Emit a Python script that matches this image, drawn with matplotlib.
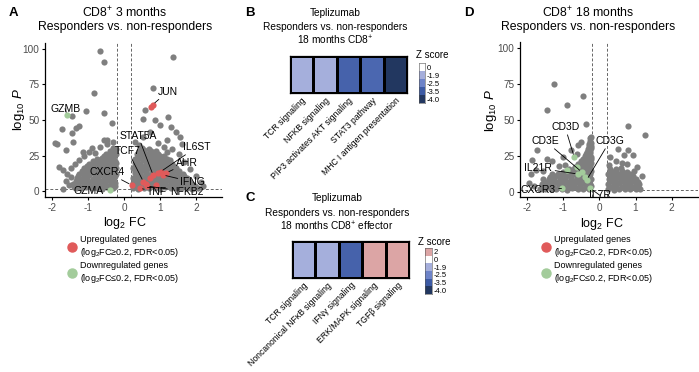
import matplotlib
matplotlib.use('Agg')
import matplotlib.pyplot as plt
from matplotlib.colors import LinearSegmentedColormap, Normalize
from matplotlib.lines import Line2D
import numpy as np

plt.rcParams['font.family'] = ['Liberation Sans', 'DejaVu Sans']
plt.rcParams['mathtext.fontset'] = 'custom'
plt.rcParams['mathtext.rm'] = 'Liberation Sans'
plt.rcParams['mathtext.it'] = 'Liberation Sans:italic'
plt.rcParams['mathtext.bf'] = 'Liberation Sans:bold'
plt.rcParams['axes.unicode_minus'] = False

# ---- Panel A: CD8+ 3 months volcano (log2FC, -log10 P) ----
a_gray = [
    # left cloud
    (-1.35, 2.2), (-1.2, 1.8), (-1.05, 2.5), (-0.9, 1.9), (-0.75, 2.3), (-0.6, 1.7), (-0.45, 2.6), (-0.3, 2.0),
    (-1.28, 3.8), (-1.13, 3.5), (-0.98, 4.0), (-0.83, 3.6), (-0.68, 3.9), (-0.53, 3.4), (-0.38, 4.1), (-0.25, 3.7),
    (-1.42, 5.0), (-1.27, 5.8), (-1.12, 5.3), (-0.97, 6.0), (-0.82, 5.2), (-0.67, 5.7), (-0.52, 5.1), (-0.37, 6.1), (-0.24, 5.4),
    (-1.35, 7.4), (-1.2, 7.0), (-1.05, 7.6), (-0.9, 7.1), (-0.75, 7.5), (-0.6, 7.0), (-0.45, 7.7), (-0.3, 7.2),
    (-1.32, 9.2), (-1.17, 8.6), (-1.02, 9.5), (-0.87, 8.8), (-0.72, 9.4), (-0.57, 8.7), (-0.42, 9.6), (-0.27, 8.9),
    (-1.27, 10.9), (-1.12, 10.5), (-0.97, 11.1), (-0.82, 10.6), (-0.67, 11.0), (-0.52, 10.4), (-0.37, 11.2), (-0.24, 10.7),
    (-1.25, 12.2), (-1.1, 13.0), (-0.95, 12.4), (-0.8, 12.9), (-0.65, 12.1), (-0.5, 13.2), (-0.35, 12.6), (-0.23, 12.3),
    (-1.17, 14.4), (-1.02, 14.0), (-0.87, 14.6), (-0.72, 14.1), (-0.57, 14.5), (-0.42, 14.0), (-0.28, 14.7),
    (-1.1, 16.3), (-0.95, 15.7), (-0.8, 16.5), (-0.65, 15.9), (-0.5, 16.6), (-0.35, 15.8), (-0.22, 16.4),
    (-1.02, 17.9), (-0.87, 17.5), (-0.72, 18.1), (-0.57, 17.6), (-0.42, 18.0), (-0.28, 17.4),
    (-0.97, 19.2), (-0.82, 19.9), (-0.67, 19.4), (-0.52, 20.0), (-0.37, 19.3), (-0.23, 19.8),
    (-0.85, 21.2), (-0.68, 21.6), (-0.53, 21.1), (-0.38, 21.7), (-0.24, 21.3),
    (-0.75, 22.8), (-0.6, 23.4), (-0.45, 22.9), (-0.3, 23.5),
    (-0.57, 24.6), (-0.42, 25.1), (-0.28, 24.7),
    (-0.5, 26.2), (-0.36, 26.9), (-0.22, 26.4), (-0.4, 28.3), (-0.27, 28.0), (-0.31, 30.2), (-0.22, 29.7),
    (-1.82, 17.0), (-1.7, 14.8), (-1.59, 12.0), (-1.48, 10.2), (-1.62, 7.3), (-1.52, 4.1), (-1.47, 15.9),
    (-1.36, 18.8), (-1.26, 21.5), (-1.12, 24.6), (-0.97, 27.3), (-0.82, 26.8), (-0.66, 30.8), (-0.46, 32.9),
    (-0.3, 34.6), (-1.91, 33.6), (-1.87, 33.4), (-1.61, 29.0), (-1.43, 34.7), (-0.57, 36.0), (-0.48, 35.8),
    (-1.73, 44.0), (-1.45, 41.0), (-1.24, 46.0), (-1.33, 44.2), (-1.45, 53.0), (-1.06, 56.5), (-0.57, 54.7),
    (-0.34, 47.6), (-0.83, 69.0), (-0.55, 91.0), (-0.67, 98.6), (-0.9, 30.5), (-1.15, 27.6), (-1.38, 2.9), (-1.7, 1.5),
    # right cloud
    (0.25, 2.1), (0.4, 1.7), (0.55, 2.4), (0.7, 1.9), (0.85, 2.2), (1.0, 1.6), (1.15, 2.5), (1.3, 1.8), (1.45, 2.3),
    (1.6, 1.9), (1.75, 2.2), (1.9, 1.7), (2.05, 2.0),
    (0.32, 3.7), (0.47, 4.0), (0.62, 3.5), (0.77, 3.9), (0.92, 3.6), (1.07, 4.1), (1.22, 3.5), (1.37, 3.9),
    (1.52, 3.6), (1.67, 4.0), (1.82, 3.5), (1.97, 3.8),
    (0.25, 5.6), (0.4, 5.1), (0.55, 5.9), (0.7, 5.3), (0.85, 5.8), (1.0, 5.2), (1.15, 5.7), (1.3, 5.0), (1.45, 5.9),
    (1.6, 5.3), (1.75, 5.6), (1.9, 5.1),
    (0.32, 7.4), (0.47, 7.0), (0.62, 7.6), (0.77, 7.1), (0.92, 7.5), (1.07, 7.0), (1.22, 7.7), (1.37, 7.2),
    (1.52, 7.4), (1.67, 7.0), (1.82, 7.3),
    (0.26, 9.3), (0.41, 8.8), (0.56, 9.4), (0.71, 8.7), (0.86, 9.2), (1.01, 8.9), (1.16, 9.5), (1.31, 8.8), (1.46, 9.1),
    (1.61, 8.7), (1.76, 9.0),
    (0.33, 10.9), (0.48, 10.5), (0.63, 11.1), (0.78, 10.6), (0.93, 11.0), (1.08, 10.4), (1.23, 11.2), (1.38, 10.7),
    (1.53, 10.9), (1.68, 10.5),
    (0.3, 12.6), (0.45, 12.1), (0.6, 12.9), (0.75, 12.3), (0.9, 12.8), (1.05, 12.2), (1.2, 12.7), (1.35, 12.4),
    (1.5, 12.9), (1.65, 12.1),
    (0.32, 14.4), (0.47, 14.0), (0.62, 14.6), (0.77, 14.1), (0.92, 14.5), (1.07, 14.0), (1.22, 14.7), (1.37, 14.2),
    (1.52, 14.4),
    (0.25, 16.2), (0.4, 15.8), (0.55, 16.5), (0.7, 15.9), (0.85, 16.4), (1.0, 15.7), (1.15, 16.3), (1.3, 15.9), (1.45, 16.2),
    (0.32, 17.9), (0.47, 17.5), (0.62, 18.1), (0.77, 17.6), (0.92, 18.0), (1.07, 17.4), (1.22, 18.2), (1.37, 17.7),
    (0.3, 19.7), (0.45, 19.2), (0.6, 19.9), (0.75, 19.4), (0.9, 19.8), (1.05, 19.3), (1.2, 19.6), (1.35, 19.1),
    (0.37, 21.2), (0.52, 21.6), (0.67, 21.1), (0.82, 21.7), (0.97, 21.3), (1.12, 21.0), (1.27, 21.5),
    (0.3, 22.8), (0.45, 23.4), (0.6, 22.9), (0.75, 23.5), (0.9, 23.0), (1.05, 23.3), (1.2, 22.7),
    (0.4, 24.6), (0.55, 25.1), (0.7, 24.7), (0.85, 25.0), (1.0, 24.5), (1.12, 24.9),
    (0.35, 26.4), (0.5, 26.9), (0.65, 26.2), (0.8, 26.7), (0.95, 26.3),
    (0.42, 28.2), (0.57, 28.6), (0.75, 28.1), (0.9, 28.4), (0.5, 30.1), (0.7, 29.6),
    (1.37, 94.6), (0.8, 72.8), (0.58, 57.0), (0.54, 50.5), (0.86, 50.0), (1.23, 52.3), (1.0, 46.5), (1.31, 45.0),
    (1.46, 41.8), (1.56, 38.0), (0.72, 41.8), (0.54, 38.2), (1.19, 36.0), (0.3, 34.8), (0.42, 32.6), (0.95, 33.8),
    (1.35, 29.7), (1.52, 25.8), (1.68, 20.3), (1.84, 15.2), (2.0, 10.4), (2.14, 6.1), (2.2, 3.2), (1.12, 31.0),
    (1.62, 33.0), (1.2, 27.5),
]
a_up = [(0.8, 60.8), (0.76, 58.8), (0.81, 11.3), (0.95, 12.4), (1.09, 11.3), (1.18, 12.8), (1.02, 13.6),
        (0.72, 8.9), (0.54, 6.6), (0.6, 5.0), (0.21, 4.2), (0.44, 1.9), (0.64, 3.5), (0.9, 4.2)]
a_down = [(-1.59, 53.5), (-0.39, 1.0)]
a_genes = ['JUN', 'GZMB', 'STAT5A', 'TCF7', 'IL6ST', 'AHR', 'IFNG', 'CXCR4', 'GZMA', 'TNF', 'NFKB2']
a_gene_pts = [(0.8, 60.8), (-1.59, 53.5), (0.81, 11.3), (0.54, 6.6), (1.02, 13.6), (1.18, 12.8), (1.09, 11.3),
              (0.21, 4.2), (-0.39, 1.0), (0.44, 1.9), (0.64, 3.5)]
a_label_pos = [(1.22, 70), (-1.64, 58), (0.39, 39), (0.11, 28), (2.03, 31), (1.75, 19.7), (1.92, 6.3),
               (-0.48, 13.4), (-1.0, 0.0), (0.92, -0.5), (1.75, -0.5)]

# ---- Panel D: CD8+ 18 months volcano ----
d_gray = [
    (-1.65, 2.2), (-1.5, 1.8), (-1.35, 2.4), (-1.2, 1.9), (-1.05, 2.3), (-0.9, 1.7), (-0.75, 2.5), (-0.6, 1.9),
    (-0.45, 2.2), (-0.3, 1.8),
    (-1.58, 3.7), (-1.43, 4.0), (-1.28, 3.6), (-1.13, 4.1), (-0.98, 3.5), (-0.83, 3.9), (-0.68, 3.6), (-0.53, 4.0),
    (-0.38, 3.7), (-0.24, 3.9),
    (-1.6, 5.3), (-1.45, 5.8), (-1.3, 5.1), (-1.15, 5.9), (-1.0, 5.4), (-0.85, 5.7), (-0.7, 5.2), (-0.55, 5.9),
    (-0.4, 5.3), (-0.25, 5.6),
    (-1.5, 7.2), (-1.35, 7.6), (-1.2, 7.1), (-1.05, 7.5), (-0.9, 7.0), (-0.75, 7.7), (-0.6, 7.2), (-0.45, 7.6),
    (-0.3, 7.1),
    (-1.55, 8.8), (-1.4, 9.3), (-1.25, 8.7), (-1.1, 9.4), (-0.95, 8.9), (-0.8, 9.2), (-0.65, 8.6), (-0.5, 9.5),
    (-0.35, 8.9), (-0.22, 9.2),
    (-1.38, 10.7), (-1.23, 11.1), (-1.08, 10.6), (-0.93, 11.0), (-0.78, 10.5), (-0.63, 11.2), (-0.48, 10.8),
    (-0.32, 11.0),
    (-1.3, 12.3), (-1.15, 12.8), (-1.0, 12.2), (-0.85, 12.9), (-0.7, 12.4), (-0.55, 12.7), (-0.4, 12.2), (-0.25, 12.8),
    (-1.0, 14.1), (-0.78, 14.6), (-0.63, 14.2), (-0.48, 14.5), (-0.33, 14.1), (-0.22, 14.6),
    (-0.85, 15.8), (-0.7, 16.3), (-0.55, 15.9), (-0.4, 16.4), (-0.25, 16.0),
    (-0.68, 17.6), (-0.52, 18.1), (-0.38, 17.7), (-0.26, 18.0),
    (-0.6, 19.3), (-0.45, 19.8), (-0.31, 19.4), (-0.22, 19.9),
    (-0.52, 21.2), (-0.38, 21.4), (-0.27, 21.0),
    (-0.45, 22.8), (-0.32, 23.3), (-0.22, 22.9), (-0.4, 24.7), (-0.3, 25.0), (-0.22, 24.6),
    (-0.38, 26.3), (-0.25, 26.8), (-0.35, 28.1), (-0.27, 28.4), (-0.33, 29.8), (-0.22, 30.3),
    (-0.3, 31.7), (-0.24, 32.0), (-0.28, 33.4), (-0.22, 34.0), (-0.26, 35.6), (-0.25, 37.2), (-0.22, 38.5),
    (-1.25, 74.8), (-0.45, 66.7), (-1.45, 56.7), (-0.9, 60.7), (-0.36, 47.0), (-1.74, 29.0), (-1.88, 22.0),
    (-1.46, 23.2), (-1.3, 21.6), (-0.58, 32.5), (-0.78, 29.5), (-1.0, 24.5), (-1.9, 12.5), (-1.76, 15.0),
    (-1.95, 6.0), (-1.12, 18.0), (-0.62, 26.5), (-1.55, 14.5), (-1.8, 4.0), (-0.95, 19.0), (-0.5, 35.0),
    (0.25, 2.1), (0.4, 1.7), (0.55, 2.4), (0.7, 1.9), (0.85, 2.3), (1.0, 1.8), (1.13, 2.2),
    (0.32, 3.7), (0.47, 4.0), (0.62, 3.6), (0.77, 4.1), (0.92, 3.5), (1.07, 3.9),
    (0.25, 5.7), (0.4, 5.2), (0.55, 5.9), (0.7, 5.3), (0.85, 5.8), (1.0, 5.1), (1.1, 5.6),
    (0.32, 7.4), (0.47, 7.0), (0.62, 7.6), (0.77, 7.1), (0.92, 7.5), (1.06, 7.2),
    (0.26, 9.2), (0.41, 8.8), (0.56, 9.4), (0.71, 8.7), (0.86, 9.3), (1.0, 8.9),
    (0.32, 10.9), (0.47, 10.5), (0.62, 11.1), (0.77, 10.6), (0.92, 11.0),
    (0.25, 12.4), (0.4, 12.9), (0.55, 12.2), (0.7, 12.8), (0.85, 12.3),
    (0.32, 14.4), (0.47, 14.0), (0.62, 14.6), (0.77, 14.1),
    (0.3, 16.2), (0.45, 15.8), (0.6, 16.4),
    (0.8, 45.8), (1.25, 39.9), (0.52, 29.7), (0.78, 29.0), (0.93, 26.0), (0.62, 20.0), (0.3, 24.0), (0.45, 21.5),
    (0.75, 19.5), (1.05, 17.0), (1.18, 11.0), (0.27, 19.0), (0.95, 14.5), (0.68, 25.5),
]
d_down = [(-0.7, 24.3), (-0.49, 13.9), (-0.35, 8.5), (-0.6, 12.5), (-1.05, 2.5), (-0.25, 2.5),
          (-0.63, 17.4), (-0.4, 10.4), (-0.9, 15.0)]
d_genes = ['CD3D', 'CD3E', 'CD3G', 'IL21R', 'CXCR3', 'IL7R']
d_gene_pts = [(-0.7, 24.3), (-0.49, 13.9), (-0.35, 8.5), (-0.6, 12.5), (-1.05, 2.5), (-0.25, 2.5)]
d_label_pos = [(-0.95, 45.1), (-1.5, 35.4), (0.29, 35.4), (-1.69, 16.5), (-1.69, 1.2), (0.01, -2.3)]

# ---- Panels B and C: pathway z scores ----
b_pathways = ['TCR signaling', 'NFKB signaling', 'PIP3 activates AKT signaling', 'STAT3 pathway',
              'MHC I antigen presentation']
b_z = [-1.9, -1.9, -3.3, -3.2, -4.0]
b_ticks = [0, -1.9, -2.5, -3.5, -4.0]
c_pathways = ['TCR signaling', 'Noncanonical NF\u03baB signaling', 'IFN\u03b3 signaling', 'ERK/MAPK signaling',
              'TGF\u03b2 signaling']
c_z = [-1.9, -1.9, -3.3, 2.0, 2.0]
c_ticks = [2, 0, -1.9, -2.5, -3.5, -4.0]

GRAY = '#7f7f7f'
RED = '#e05a5a'
GREEN = '#a3cc9b'
W, H = 699, 372

fig = plt.figure(figsize=(W / 100, H / 100), dpi=100)


def px_rect(x0, y0, x1, y1):
    return [x0 / W, 1 - y1 / H, (x1 - x0) / W, (y1 - y0) / H]


def title_lines(x, ys, lines, size):
    for y, line in zip(ys, lines):
        fig.text(x / W, 1 - y / H, line, ha='center', va='center', fontsize=size)


def volcano(rect, gray, up, down, genes, gene_pts, label_pos, ylim):
    ax = fig.add_axes(rect)
    for pts, c in ((gray, GRAY), (down, GREEN), (up, RED)):
        if pts:
            xs, ys = zip(*pts)
            ax.scatter(xs, ys, s=20, color=c, linewidths=0, zorder=2)
    ax.axvline(-0.2, color='#666666', ls=(0, (3, 2)), lw=0.7, zorder=1)
    ax.axvline(0.2, color='#666666', ls=(0, (3, 2)), lw=0.7, zorder=1)
    ax.axhline(1.3, color='#666666', ls=(0, (3, 2)), lw=0.7, zorder=1)
    for g, p, t in zip(genes, gene_pts, label_pos):
        ax.annotate(g, xy=p, xytext=t, ha='center', va='center', fontsize=7.5, zorder=4,
                    annotation_clip=False,
                    arrowprops=dict(arrowstyle='-', color='black', lw=0.6, shrinkA=0, shrinkB=2))
    ax.set_xlim(-2.2, 2.73)
    ax.set_ylim(*ylim)
    ax.set_xticks([-2, -1, 0, 1, 2])
    ax.set_yticks([0, 25, 50, 75, 100])
    for s in ('top', 'right'):
        ax.spines[s].set_visible(False)
    for s in ('left', 'bottom'):
        ax.spines[s].set_linewidth(0.9)
    ax.tick_params(labelsize=7.2, labelcolor='#4d4d4d', length=2.5, width=0.8, pad=1.5)
    ax.set_xlabel('log$_2$ FC', fontsize=9)
    ax.set_ylabel('log$_{10}$ $P$', fontsize=9.5)
    return ax


axA = volcano(px_rect(45, 43, 222, 197), a_gray, a_up, a_down, a_genes, a_gene_pts, a_label_pos, (-4.2, 104.2))
axA.xaxis.set_label_coords(0.452, -0.12)
axA.yaxis.set_label_coords(-0.104, 0.565)

axD = volcano(px_rect(520, 42, 698, 197), d_gray, [], d_down, d_genes, d_gene_pts, d_label_pos, (-3.5, 104.2))
axD.xaxis.set_label_coords(0.46, -0.12)
axD.yaxis.set_label_coords(-0.12, 0.56)

title_lines(125, (13, 27), ['CD8$^{+}$ 3 months', 'Responders vs. non-responders'], 8.8)
title_lines(588, (13, 27), ['CD8$^{+}$ 18 months', 'Responders vs. non-responders'], 8.8)

# legends under the volcano plots
handles = [Line2D([], [], marker='o', ls='', ms=6.5, color=RED),
           Line2D([], [], marker='o', ls='', ms=6.5, color=GREEN)]
leg_labels = ['Upregulated genes\n(log$_2$FC\u22650.2, FDR<0.05)',
              'Downregulated genes\n(log$_2$FC\u22640.2, FDR<0.05)']
for lx in (67.5, 541.5):
    fig.legend(handles, leg_labels, loc='upper left', bbox_to_anchor=(lx / W, 1 - 235 / H), frameon=False,
               fontsize=6.5, handlelength=1.0, handletextpad=0.4, labelspacing=0.23, borderpad=0,
               borderaxespad=0)

# heatmaps
z_cmap = LinearSegmentedColormap.from_list('z', [
    (0.0, '#223760'), (0.5 / 6, '#3d5ba5'), (1.5 / 6, '#6d83c8'), (2.1 / 6, '#a6afdc'),
    (4 / 6, '#ffffff'), (1.0, '#dca5a5')])
z_norm = Normalize(-4, 2)


def heatmap(rect, vals, labels):
    ax = fig.add_axes(rect)
    ax.pcolormesh(np.array([vals]), cmap=z_cmap, norm=z_norm, edgecolors='black', linewidth=0.8)
    ax.set_xlim(0, len(vals))
    ax.set_ylim(0, 1)
    ax.set_xticks(np.arange(len(vals)) + 0.5)
    ax.set_xticklabels(labels, rotation=45, ha='right', rotation_mode='anchor', fontsize=6.2)
    ax.set_yticks([])
    ax.tick_params(length=0, pad=2)
    for s in ax.spines.values():
        s.set_linewidth(0.9)
    return ax


def zbar(rect, ticks, title_xy):
    ax = fig.add_axes(rect)
    ax.imshow(np.array(ticks)[:, None], cmap=z_cmap, norm=z_norm, aspect='auto')
    ax.set_xticks([])
    ax.yaxis.tick_right()
    ax.set_yticks(range(len(ticks)))
    ax.set_yticklabels([f'{t:g}' if t in (0, 2) else f'{t:.1f}' for t in ticks], fontsize=5.5)
    ax.tick_params(length=0, pad=1)
    for s in ax.spines.values():
        s.set_linewidth(0.4)
        s.set_color('#555555')
    fig.text(title_xy[0] / W, 1 - title_xy[1] / H, 'Z score', ha='left', va='center', fontsize=7)


heatmap(px_rect(290, 56, 407, 93), b_z, b_pathways)
zbar(px_rect(419, 63, 425, 103), b_ticks, (416, 55))
heatmap(px_rect(292, 241, 409, 278), c_z, c_pathways)
zbar(px_rect(425, 248, 432, 294), c_ticks, (418, 242))

title_lines(335, (13.3, 26.7, 40), ['Teplizumab', 'Responders vs. non-responders', '18 months CD8$^{+}$'], 7.3)
title_lines(337, (198.3, 213.3, 226.7),
            ['Teplizumab', 'Responders vs. non-responders', '18 months CD8$^{+}$ effector'], 7.3)

# panel letters
for letter, (lx, ly) in zip('ABCD', [(13, 13), (250, 13), (250, 198), (469, 13)]):
    fig.text(lx / W, 1 - ly / H, letter, ha='center', va='center', fontsize=9.5, fontweight='bold')

fig.savefig('out.png', dpi=100)
